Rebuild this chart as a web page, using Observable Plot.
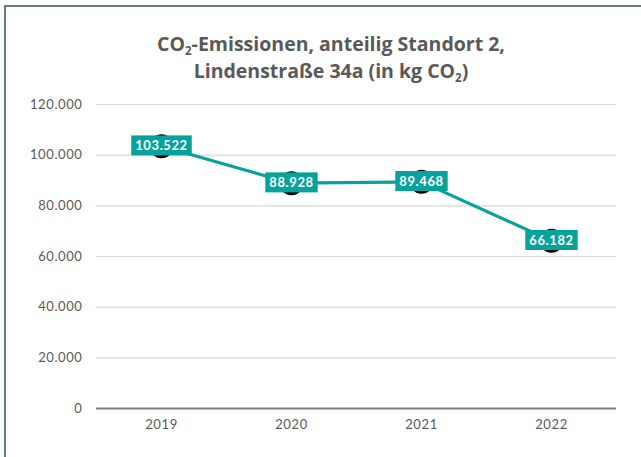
<!DOCTYPE html>
<html><head><meta charset="utf-8">
<script src="https://cdn.jsdelivr.net/npm/d3@7"></script>
<script src="https://cdn.jsdelivr.net/npm/@observablehq/plot@0.6"></script>
<style>
html,body{margin:0;padding:0;background:#fff;overflow:hidden;width:641px;height:457px;}
#frame{position:absolute;left:4px;top:5px;width:700px;height:500px;border-left:2px solid #657e87;border-top:2px solid #657e87;}
#title{position:absolute;left:0;top:30px;width:662px;text-align:center;font-family:"Open Sans",Lato,sans-serif;font-weight:700;font-size:19.5px;line-height:27px;color:#595959;}
#title sub{font-size:11.5px;vertical-align:-4px;line-height:0;}
#chart{position:absolute;left:0;top:90px;}
#chart svg text{letter-spacing:0.6px;}
</style></head><body>
<div id="frame"></div>
<div id="title">CO<sub>2</sub>-Emissionen, anteilig Standort 2,<br>Lindenstraße 34a (in kg CO<sub>2</sub>)</div>
<div id="chart"></div>
<script>
const years = ["2019","2020","2021","2022"];
const emissions = [103522, 88928, 89468, 66182];
const yTicks = [0, 20000, 40000, 60000, 80000, 100000, 120000];

const data = years.map((y,i)=>({year:y, value:emissions[i]}));
const fmt = v => d3.format(",")(v).replace(/,/g,".");
const teal = "#07a29c";

const plot = Plot.plot({
  width: 641, height: 367,
  marginTop: 14, marginBottom: 49, marginLeft: 96, marginRight: 25,
  style: {fontFamily: "Lato, 'Open Sans', sans-serif", fontSize: "13px", color: "#595959", background: "transparent"},
  x: {type: "band", domain: years, padding: 0, label: null},
  y: {domain: [0, 120000], label: null},
  marks: [
    Plot.ruleY(yTicks.filter(d=>d>0), {stroke: "#d9d9d9", strokeWidth: 1.2, strokeOpacity: 1}),
    Plot.ruleY([0], {stroke: "#7f7f7f", strokeWidth: 2.2}),
    Plot.axisY({ticks: yTicks, tickSize: 0, tickPadding: 14, tickFormat: fmt, fill: "#595959"}),
    Plot.axisX({tickSize: 0, tickPadding: 11, fill: "#595959"}),
    Plot.line(data, {x: "year", y: "value", stroke: teal, strokeWidth: 3.2}),
    Plot.dot(data, {x: "year", y: "value", r: 12, fill: "#000"}),
    Plot.text(data, {x: "year", y: "value", text: d=>fmt(d.value), fill: "#fff", fontWeight: "bold", fontSize: 13, className: "vlabel"})
  ]
});
document.getElementById("chart").appendChild(plot);

// add teal background boxes behind value labels
plot.querySelectorAll(".vlabel text").forEach(t => {
  const b = t.getBBox();
  const r = document.createElementNS("http://www.w3.org/2000/svg","rect");
  const padX = 4, padY = 2.5;
  r.setAttribute("x", b.x - padX);
  r.setAttribute("y", b.y - padY + 0.5);
  r.setAttribute("width", b.width + 2*padX);
  r.setAttribute("height", b.height + 2*padY - 1);
  r.setAttribute("fill", teal);
  const tr = t.getAttribute("transform");
  if (tr) r.setAttribute("transform", tr);
  t.parentNode.insertBefore(r, t);
});
</script>
</body></html>
